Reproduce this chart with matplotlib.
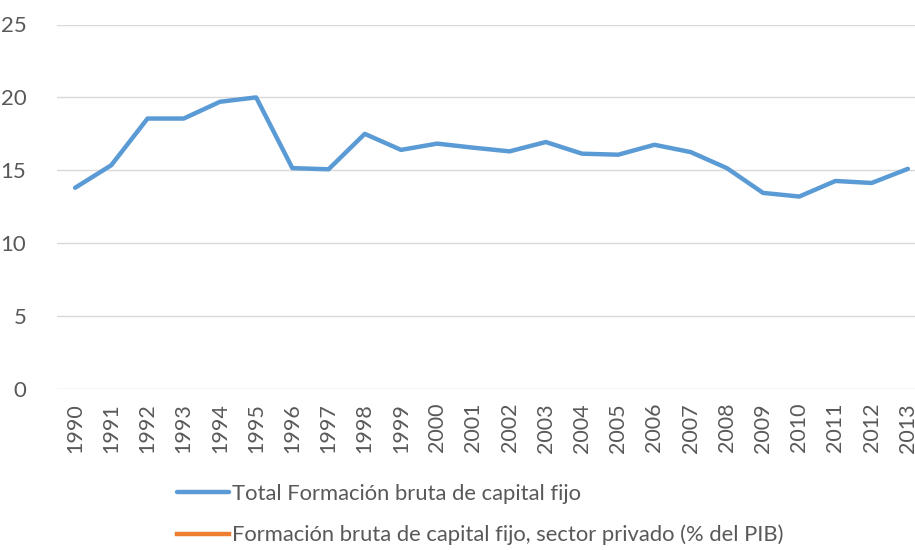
import numpy as np
import matplotlib.pyplot as plt

plt.rcParams['font.family'] = ['Lato', 'DejaVu Sans']

years = [str(y) for y in range(1990, 2014)]
total_fbkf = [13.8, 15.35, 18.55, 18.55, 19.7, 20.0, 15.15, 15.07, 17.5, 16.4,
              16.83, 16.55, 16.3, 16.94, 16.14, 16.07, 16.75, 16.25, 15.15, 13.45,
              13.2, 14.27, 14.13, 15.1]
# private sector series has no data in the source chart
privado_fbkf = [np.nan] * len(years)

fig = plt.figure(figsize=(9.15, 5.5), dpi=100)
ax = fig.add_axes([57 / 915, 1 - 389 / 550, 869 / 915, (389 - 24.5) / 550])

x = np.arange(len(years))
ax.plot(x, total_fbkf, color='#5B9BD5', linewidth=3.2, solid_capstyle='round',
        label='Total Formación bruta de capital fijo')
ax.plot(x, privado_fbkf, color='#ED7D31', linewidth=3.2,
        label='Formación bruta de capital fijo, sector privado (% del PIB)')

ax.set_xlim(-0.5, len(years) - 0.5)
ax.set_ylim(0, 25)
ax.set_yticks([0, 5, 10, 15, 20, 25])
ax.set_xticks(x)
ax.set_xticklabels(years, rotation=90)
ax.grid(axis='y', color='#D9D9D9', linewidth=1)
ax.set_axisbelow(True)
for s in ax.spines.values():
    s.set_visible(False)
ax.tick_params(axis='both', length=0, colors='#595959')
ax.tick_params(axis='y', pad=22, labelsize=16)
ax.tick_params(axis='x', pad=10, labelsize=15.5)

fig.legend(loc='upper left', bbox_to_anchor=(157 / 915, 1 - 464 / 550),
           frameon=False, fontsize=15.8, labelcolor='#595959',
           handlelength=2.4, handletextpad=0.1, labelspacing=0.95)

fig.savefig('out.png', dpi=100)
